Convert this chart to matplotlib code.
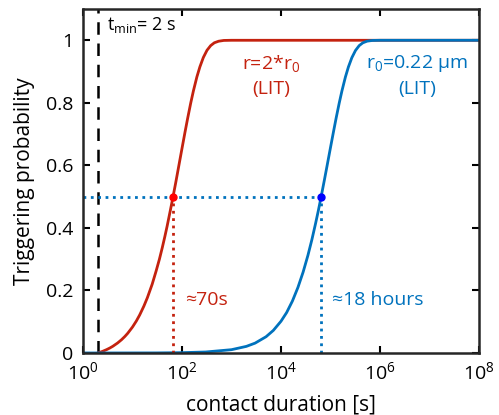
import matplotlib.pyplot as plt

plt.rcParams['font.family'] = ['Open Sans', 'DejaVu Sans']
plt.rcParams['mathtext.fontset'] = 'custom'
plt.rcParams['mathtext.rm'] = 'Open Sans'
plt.rcParams['mathtext.it'] = 'Open Sans:italic'

RED = '#C4220F'
BLUE = '#0072BD'

# trigger probability
t_red = [2, 2.2, 2.5, 3, 3.5, 4, 5, 6, 7, 8, 10, 12, 14, 17, 20, 25, 30, 35, 40, 45, 50, 58, 66,
         75, 85, 100, 115, 130, 150, 170, 200, 230, 270, 320, 380, 450, 550, 700, 1000, 1e8]
p_red = [0, 0.0022, 0.0054, 0.0108, 0.0161, 0.0214, 0.032, 0.0424, 0.0527, 0.0629, 0.083, 0.1026,
         0.1219, 0.150, 0.177, 0.220, 0.262, 0.300, 0.337, 0.372, 0.405, 0.455, 0.5,
         0.546, 0.593, 0.654, 0.706, 0.750, 0.799, 0.838, 0.883, 0.915, 0.945, 0.968, 0.983,
         0.992, 0.997, 0.9995, 1.0, 1.0]

t_blue = [1, 30, 100, 300, 1000, 2000, 3000, 5000, 7000, 1e4, 1.3e4, 1.7e4, 2.2e4, 2.8e4, 3.5e4,
          4.2e4, 5e4, 5.7e4, 6.48e4, 7.5e4, 8.5e4, 1e5, 1.15e5, 1.3e5, 1.5e5, 1.7e5, 2e5, 2.3e5,
          2.7e5, 3.2e5, 3.8e5, 4.5e5, 5.5e5, 7e5, 1e6, 1e8]
p_blue = [0, 0.0003, 0.0011, 0.0032, 0.0106, 0.0212, 0.0316, 0.0521, 0.0722, 0.1015, 0.1293,
          0.166, 0.2097, 0.2588, 0.3122, 0.3618, 0.4144, 0.4563, 0.5, 0.5518, 0.5973, 0.6569,
          0.7076, 0.7511, 0.799, 0.8376, 0.8823, 0.9145, 0.9443, 0.9674, 0.9829, 0.9919,
          0.9972, 0.9994, 1.0, 1.0]

t_min = 2
t_half_red = 66
t_half_blue = 6.48e4

fig = plt.figure(figsize=(4.99, 4.15), dpi=100)
ax = fig.add_axes([0.1663, 0.1494, 0.7936, 0.8289])

ax.axvline(t_min, color='black', ls=(0, (5, 3.5)), lw=1.8)
ax.plot(t_red, p_red, color=RED, lw=2)
ax.plot(t_blue, p_blue, color=BLUE, lw=2)

ax.plot([1, t_half_blue], [0.5, 0.5], color=BLUE, ls=':', lw=2)
ax.plot([t_half_red, t_half_red], [0, 0.5], color=RED, ls=':', lw=2)
ax.plot([t_half_blue, t_half_blue], [0, 0.5], color=BLUE, ls=':', lw=2)
ax.plot(t_half_red, 0.5, 'o', color='red', ms=5)
ax.plot(t_half_blue, 0.5, 'o', color='blue', ms=5)

ax.set_xscale('log')
ax.set_xlim(1, 1e8)
ax.set_ylim(0, 1.1)
ax.set_xticks([1, 1e2, 1e4, 1e6, 1e8])
ax.minorticks_off()
ax.set_yticks([0, 0.2, 0.4, 0.6, 0.8, 1])
ax.set_yticklabels(['0', '0.2', '0.4', '0.6', '0.8', '1'])
ax.tick_params(direction='in', top=True, right=True, length=5, width=1.5, labelsize=14)
ax.tick_params(axis='y', pad=7)
ax.tick_params(axis='x', pad=6)
for s in ax.spines.values():
    s.set_linewidth(1.8)
    s.set_color('#262626')

ax.set_xlabel('contact duration [s]', fontsize=15, labelpad=8)
ax.set_ylabel('Triggering probability', fontsize=15, labelpad=8)

ax.text(3.0, 1.05, r'$\mathregular{t_{min}}$= 2 s', fontsize=13, va='center')
ax.text(6300, 0.925, r'r=2*r$\mathregular{_0}$', color=RED, fontsize=14, ha='center', va='center')
ax.text(6300, 0.845, '(LIT)', color=RED, fontsize=14, ha='center', va='center')
ax.text(5.6e6, 0.925, r'r$\mathregular{_0}$=0.22 μm', color=BLUE, fontsize=14, ha='center', va='center')
ax.text(5.6e6, 0.845, '(LIT)', color=BLUE, fontsize=14, ha='center', va='center')
ax.text(115, 0.17, '≈70s', color=RED, fontsize=14, va='center')
ax.text(1.07e5, 0.17, '≈18 hours', color=BLUE, fontsize=14, va='center')

fig.savefig('out.png', dpi=100)
